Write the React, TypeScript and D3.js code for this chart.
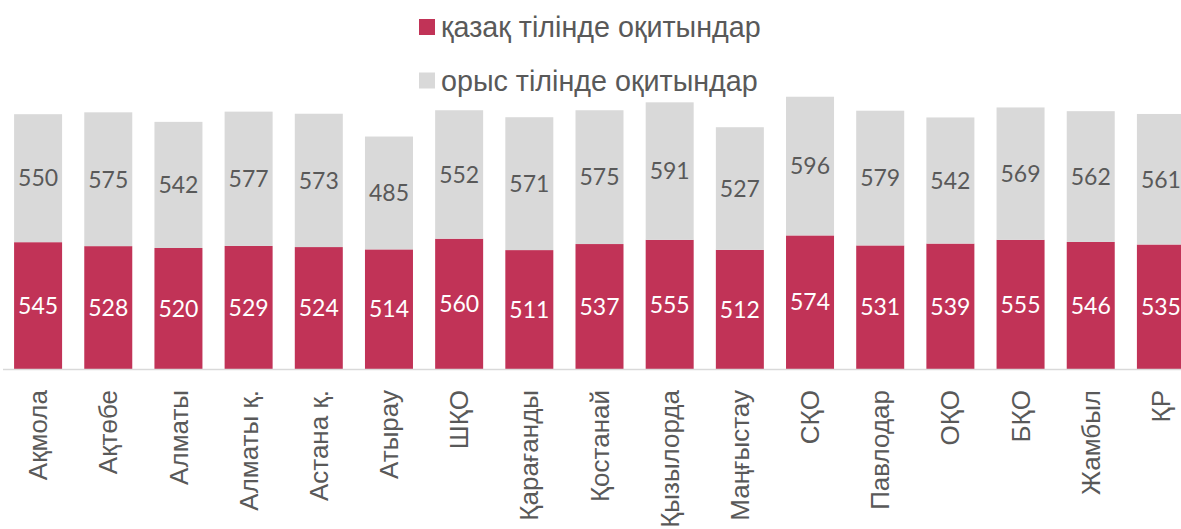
import React, { useEffect, useRef } from 'react';
import * as d3 from 'd3';

const regions = ['Ақмола', 'Ақтөбе', 'Алматы', 'Алматы қ.', 'Астана қ.', 'Атырау', 'ШҚО', 'Қарағанды', 'Қостанай', 'Қызылорда', 'Маңғыстау', 'СҚО', 'Павлодар', 'ОҚО', 'БҚО', 'Жамбыл', 'ҚР'];
const kazakhScores = [545, 528, 520, 529, 524, 514, 560, 511, 537, 555, 512, 574, 531, 539, 555, 546, 535];
const russianScores = [550, 575, 542, 577, 573, 485, 552, 571, 575, 591, 527, 596, 579, 542, 569, 562, 561];
const seriesNames = ['қазақ тілінде оқитындар', 'орыс тілінде оқитындар'];

const W = 1181;
const H = 529;

const App = () => {
  const svgRef = useRef<SVGSVGElement>(null);

  useEffect(() => {
    const svg = d3.select(svgRef.current);
    svg.selectAll('*').remove();

    const red = '#C13357';
    const grey = '#D9D9D9';
    const textGrey = '#595959';
    const baseY = 369;

    const x = d3.scaleBand<string>()
      .domain(regions)
      .range([3, 1196])
      .paddingInner(0.316)
      .paddingOuter(0.158);

    // 0.2327 px per point
    const y = d3.scaleLinear().domain([0, 1400]).range([baseY, baseY - 1400 * 0.2327]);

    const rows = regions.map((r, i) => ({ r, kz: kazakhScores[i], ru: russianScores[i] }));

    // bars
    const g = svg.append('g');
    g.selectAll('rect.kz')
      .data(rows)
      .join('rect')
      .attr('class', 'kz')
      .attr('x', d => x(d.r)!)
      .attr('width', x.bandwidth())
      .attr('y', d => y(d.kz))
      .attr('height', d => y(0) - y(d.kz))
      .attr('fill', red);

    g.selectAll('rect.ru')
      .data(rows)
      .join('rect')
      .attr('class', 'ru')
      .attr('x', d => x(d.r)!)
      .attr('width', x.bandwidth())
      .attr('y', d => y(d.kz + d.ru))
      .attr('height', d => y(d.kz) - y(d.kz + d.ru))
      .attr('fill', grey);

    // value labels
    const numFont = 'Lato, "DejaVu Sans", sans-serif';
    g.selectAll('text.kzv')
      .data(rows)
      .join('text')
      .attr('class', 'kzv')
      .attr('x', d => x(d.r)! + x.bandwidth() / 2)
      .attr('y', d => (y(0) + y(d.kz)) / 2)
      .attr('dy', '0.36em')
      .attr('text-anchor', 'middle')
      .attr('font-family', numFont)
      .attr('font-size', 23)
      .attr('fill', '#FFFFFF')
      .text(d => d.kz);

    g.selectAll('text.ruv')
      .data(rows)
      .join('text')
      .attr('class', 'ruv')
      .attr('x', d => x(d.r)! + x.bandwidth() / 2)
      .attr('y', d => (y(d.kz) + y(d.kz + d.ru)) / 2)
      .attr('dy', '0.36em')
      .attr('text-anchor', 'middle')
      .attr('font-family', numFont)
      .attr('font-size', 23)
      .attr('fill', textGrey)
      .text(d => d.ru);

    // axis line
    svg.append('line')
      .attr('x1', 3)
      .attr('x2', W)
      .attr('y1', baseY + 0.5)
      .attr('y2', baseY + 0.5)
      .attr('stroke', grey)
      .attr('stroke-width', 1.5);

    // category labels, rotated
    const labelFont = '"Liberation Sans", Arial, sans-serif';
    svg.append('g')
      .selectAll('text')
      .data(regions)
      .join('text')
      .attr('transform', d => `translate(${x(d)! + x.bandwidth() / 2}, 390) rotate(-90)`)
      .attr('dy', '0.35em')
      .attr('text-anchor', 'end')
      .attr('font-family', labelFont)
      .attr('font-size', 26)
      .attr('fill', textGrey)
      .text(d => d);

    // legend
    const legend = svg.append('g').attr('transform', 'translate(419, 0)');
    const legendColors = [red, grey];
    const legendY = [27, 80.5];
    seriesNames.forEach((name, i) => {
      legend.append('rect')
        .attr('x', 0)
        .attr('y', legendY[i] - 8)
        .attr('width', 16)
        .attr('height', 16)
        .attr('fill', legendColors[i]);
      legend.append('text')
        .attr('x', 22)
        .attr('y', legendY[i])
        .attr('dy', '0.35em')
        .attr('font-family', labelFont)
        .attr('font-size', 28.7)
        .attr('fill', textGrey)
        .text(name);
    });
  }, []);

  return (
    <svg
      ref={svgRef}
      width={W}
      height={H}
      style={{ position: 'absolute', left: 0, top: 0, background: '#FFFFFF' }}
    />
  );
};

export default App;
